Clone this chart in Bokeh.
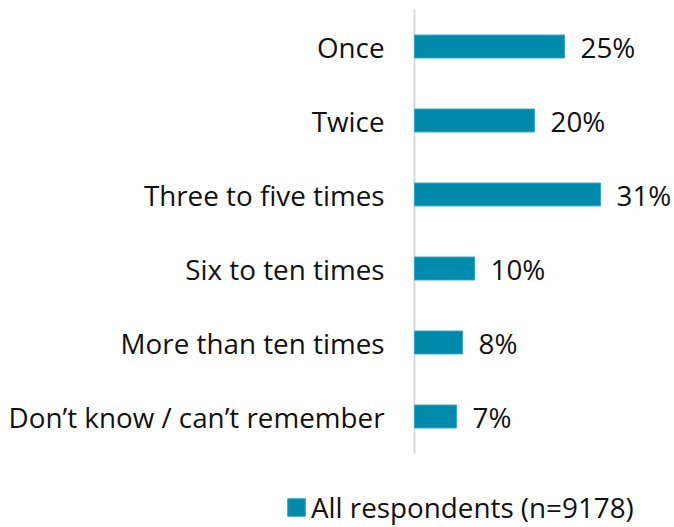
from bokeh.plotting import figure
from bokeh.models import ColumnDataSource, Range1d, Legend, LegendItem
from bokeh.core.properties import value
from bokeh.embed import file_html
from bokeh.resources import INLINE

categories = ["Once", "Twice", "Three to five times", "Six to ten times",
              "More than ten times", "Don\u2019t know / can\u2019t remember"]
values = [25, 20, 31, 10, 8, 7]
value_labels = ["25%", "20%", "31%", "10%", "8%", "7%"]
series_name = "All respondents (n=9178)"

FONT = "Open Sans"
BAR = "#008BAD"
FS = "27.8px"
TXT = "#111111"

W, H = 674, 527
AXIS_X = 414          # pixel position of the value axis (x = 0)
PX_PER_PCT = 6.0
ROW = 74.0            # pixels per category row
FIRST_ROW_Y = 46.0    # pixel centre of first row

pos = list(range(len(categories)))
src = ColumnDataSource(dict(pos=pos, cat=categories, val=values, lab=value_labels,
                            zero=[0] * len(categories)))

top = -FIRST_ROW_Y / ROW
bottom = top + H / ROW
p = figure(width=W, height=H, output_backend="svg", toolbar_location=None,
           x_range=Range1d(-AXIS_X / PX_PER_PCT, (W - AXIS_X) / PX_PER_PCT),
           y_range=Range1d(bottom, top),
           min_border=0, x_axis_type=None, y_axis_type=None)
p.outline_line_color = None
p.grid.visible = False
p.background_fill_color = "white"
p.border_fill_color = "white"

# value axis line spanning the category rows
p.segment(x0=[0], y0=[pos[0] - 0.5], x1=[0], y1=[pos[-1] + 0.5],
          line_color="#d9d9d9", line_width=2)

r = p.hbar(y="pos", right="val", left=0, height=0.31, source=src,
           fill_color=BAR, line_color="#35A6C3", line_width=1)

# value labels
p.text(x="val", y="pos", text="lab", source=src, x_offset=16,
       text_baseline="middle", text_align="left", text_font=value(FONT),
       text_font_size=FS, text_color=TXT)

# category labels
p.text(x="zero", y="pos", text="cat", source=src, x_offset=-30,
       text_baseline="middle", text_align="right", text_font=value(FONT),
       text_font_size=FS, text_color=TXT)

legend = Legend(items=[LegendItem(label=series_name, renderers=[r])],
                location=(285, 1), orientation="horizontal",
                margin=0, padding=0, border_line_alpha=0, background_fill_alpha=0,
                glyph_width=22, glyph_height=22, label_standoff=4,
                label_text_font=FONT, label_text_font_size=FS,
                label_text_color=TXT)
p.add_layout(legend, "center")

open("out.html", "w").write(file_html(p, INLINE))
